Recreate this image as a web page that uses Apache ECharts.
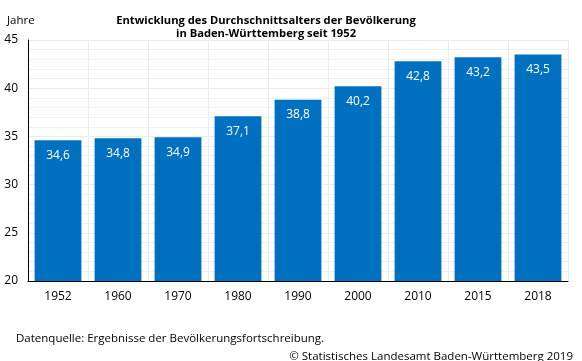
<!DOCTYPE html>
<html><head><meta charset="utf-8">
<script src="https://cdn.jsdelivr.net/npm/echarts@6/dist/echarts.min.js"></script>
<style>html,body{margin:0;padding:0;background:#fff}#c{width:582px;height:361px}</style>
</head><body><div id="c"></div>
<script>
const categories = ['1952','1960','1970','1980','1990','2000','2010','2015','2018'];
const values = [34.6, 34.8, 34.9, 37.1, 38.8, 40.2, 42.8, 43.2, 43.5];
const yTicks = [20, 25, 30, 35, 40, 45];
const titleText = 'Entwicklung des Durchschnittsalters der Bevölkerung\nin Baden-Württemberg seit 1952';
const unitText = 'Jahre';
const sourceText = 'Datenquelle: Ergebnisse der Bevölkerungsfortschreibung.';
const copyrightText = '© Statistisches Landesamt Baden-Württemberg 2019';

const chart = echarts.init(document.getElementById('c'), null, {renderer: 'canvas'});
const font = 'Open Sans, Liberation Sans, sans-serif';
chart.setOption({
  animation: false,
  textStyle: {fontFamily: font},
  title: [
    {text: titleText, left: 261, textAlign: 'center', top: 9,
     textStyle: {fontSize: 11.2, fontWeight: 'bold', color: '#000', lineHeight: 13, fontFamily: font}},
    {text: unitText, left: 2, top: 10, textStyle: {fontSize: 11.5, fontWeight: 'normal', color: '#000', fontFamily: font}},
    {text: sourceText, left: 11, top: 328, textStyle: {fontSize: 11.5, fontWeight: 'normal', color: '#000', fontFamily: font}},
    {text: copyrightText, right: 4, top: 346, textStyle: {fontSize: 11.5, fontWeight: 'normal', color: '#000', fontFamily: font}}
  ],
  grid: {left: 28, right: 14, top: 40, bottom: 80, containLabel: false},
  xAxis: {
    type: 'category', data: categories,
    axisLine: {show: true, lineStyle: {color: '#000', width: 1}},
    axisTick: {show: false},
    axisLabel: {color: '#000', fontSize: 12, margin: 10, fontFamily: font},
    splitLine: {show: true, interval: 0, lineStyle: {color: '#ebebeb'}}
  },
  yAxis: {
    type: 'value', min: yTicks[0], max: yTicks[yTicks.length - 1], interval: 5,
    axisLine: {show: true, lineStyle: {color: '#000', width: 1}},
    axisTick: {show: false},
    axisLabel: {color: '#000', fontSize: 12, margin: 10, fontFamily: font},
    splitLine: {show: true, lineStyle: {color: '#ebebeb'}},
    minorTick: {show: false, splitNumber: 5},
    minorSplitLine: {show: true, lineStyle: {color: '#f0f0f0'}}
  },
  series: [{
    type: 'bar', data: values, barCategoryGap: '22%',
    itemStyle: {color: '#0070c0'},
    label: {show: true, position: 'insideTop', distance: 9, color: '#fff', fontSize: 12, fontFamily: font,
      formatter: p => p.value.toFixed(1).replace('.', ',')}
  }]
});
</script></body></html>
